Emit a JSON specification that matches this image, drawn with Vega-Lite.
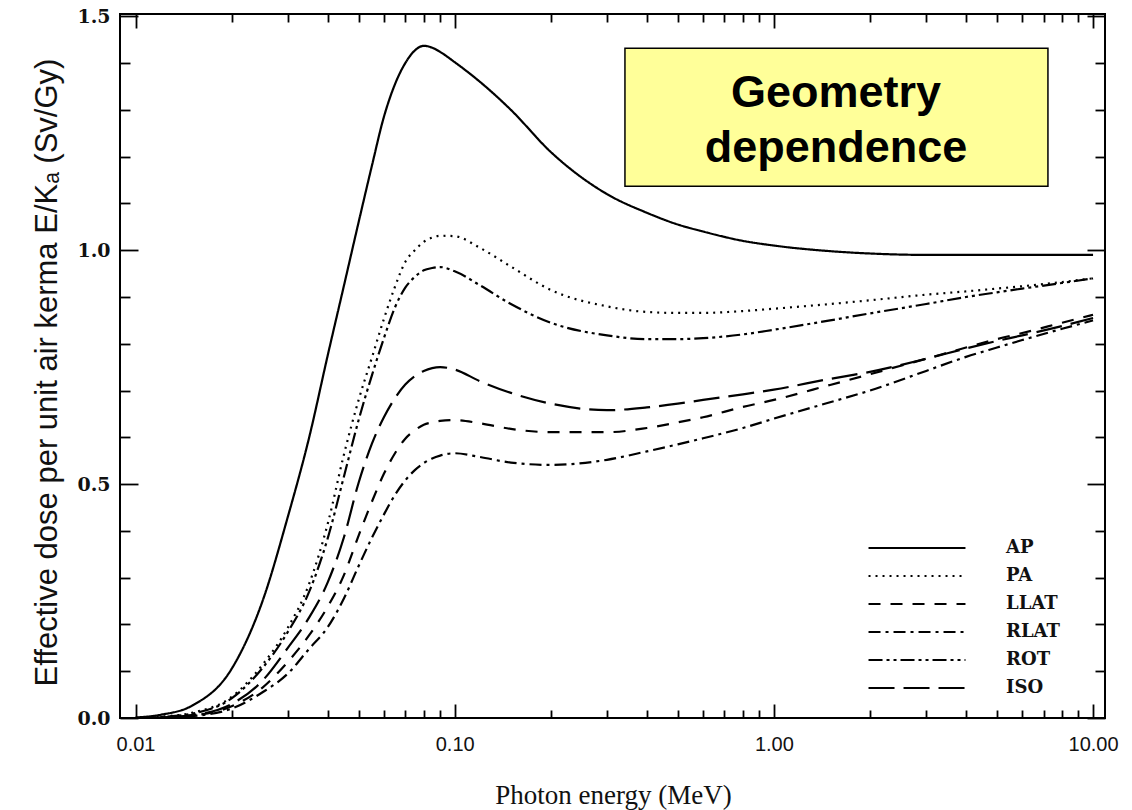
{
  "$schema": "https://vega.github.io/schema/vega-lite/v6.json",
  "width": 985,
  "height": 704,
  "autosize": "none",
  "padding": {"left": 120, "top": 14, "right": 27, "bottom": 92},
  "background": "white",
  "config": {
    "view": {"stroke": "black", "strokeWidth": 2},
    "axis": {"domain": false, "grid": false, "tickColor": "black", "tickWidth": 1.8, "labelColor": "#111", "titleColor": "#111"}
  },
  "datasets": {
    "curves": [
      {"E": 0.01, "AP": 0.001, "PA": 0, "LLAT": 0, "RLAT": 0, "ROT": 0, "ISO": 0},
      {"E": 0.012, "AP": 0.007, "PA": 0.003, "LLAT": 0.001, "RLAT": 0.001, "ROT": 0.002, "ISO": 0.001},
      {"E": 0.015, "AP": 0.026, "PA": 0.011, "LLAT": 0.005, "RLAT": 0.004, "ROT": 0.009, "ISO": 0.006},
      {"E": 0.02, "AP": 0.105, "PA": 0.045, "LLAT": 0.025, "RLAT": 0.02, "ROT": 0.042, "ISO": 0.03},
      {"E": 0.025, "AP": 0.25, "PA": 0.114, "LLAT": 0.065, "RLAT": 0.055, "ROT": 0.107, "ISO": 0.08},
      {"E": 0.03, "AP": 0.43, "PA": 0.193, "LLAT": 0.12, "RLAT": 0.095, "ROT": 0.184, "ISO": 0.15},
      {"E": 0.035, "AP": 0.6, "PA": 0.287, "LLAT": 0.177, "RLAT": 0.148, "ROT": 0.27, "ISO": 0.215},
      {"E": 0.04, "AP": 0.775, "PA": 0.415, "LLAT": 0.238, "RLAT": 0.194, "ROT": 0.384, "ISO": 0.29},
      {"E": 0.045, "AP": 0.925, "PA": 0.564, "LLAT": 0.306, "RLAT": 0.256, "ROT": 0.517, "ISO": 0.387},
      {"E": 0.05, "AP": 1.06, "PA": 0.68, "LLAT": 0.39, "RLAT": 0.325, "ROT": 0.637, "ISO": 0.503},
      {"E": 0.055, "AP": 1.18, "PA": 0.77, "LLAT": 0.462, "RLAT": 0.385, "ROT": 0.732, "ISO": 0.586},
      {"E": 0.06, "AP": 1.285, "PA": 0.853, "LLAT": 0.522, "RLAT": 0.435, "ROT": 0.812, "ISO": 0.643},
      {"E": 0.065, "AP": 1.355, "PA": 0.922, "LLAT": 0.566, "RLAT": 0.477, "ROT": 0.878, "ISO": 0.684},
      {"E": 0.07, "AP": 1.4, "PA": 0.975, "LLAT": 0.597, "RLAT": 0.508, "ROT": 0.92, "ISO": 0.713},
      {"E": 0.075, "AP": 1.427, "PA": 1.0, "LLAT": 0.615, "RLAT": 0.53, "ROT": 0.943, "ISO": 0.731},
      {"E": 0.08, "AP": 1.437, "PA": 1.018, "LLAT": 0.627, "RLAT": 0.545, "ROT": 0.957, "ISO": 0.742},
      {"E": 0.085, "AP": 1.433, "PA": 1.027, "LLAT": 0.632, "RLAT": 0.555, "ROT": 0.962, "ISO": 0.748},
      {"E": 0.09, "AP": 1.424, "PA": 1.031, "LLAT": 0.635, "RLAT": 0.561, "ROT": 0.964, "ISO": 0.75},
      {"E": 0.1, "AP": 1.402, "PA": 1.03, "LLAT": 0.637, "RLAT": 0.566, "ROT": 0.955, "ISO": 0.745},
      {"E": 0.12, "AP": 1.36, "PA": 1.005, "LLAT": 0.63, "RLAT": 0.558, "ROT": 0.925, "ISO": 0.72},
      {"E": 0.15, "AP": 1.3, "PA": 0.965, "LLAT": 0.618, "RLAT": 0.546, "ROT": 0.885, "ISO": 0.695},
      {"E": 0.2, "AP": 1.21, "PA": 0.915, "LLAT": 0.611, "RLAT": 0.541, "ROT": 0.845, "ISO": 0.672},
      {"E": 0.3, "AP": 1.12, "PA": 0.88, "LLAT": 0.611, "RLAT": 0.552, "ROT": 0.818, "ISO": 0.658},
      {"E": 0.4, "AP": 1.08, "PA": 0.868, "LLAT": 0.62, "RLAT": 0.57, "ROT": 0.81, "ISO": 0.664},
      {"E": 0.5, "AP": 1.055, "PA": 0.866, "LLAT": 0.632, "RLAT": 0.585, "ROT": 0.81, "ISO": 0.672},
      {"E": 0.6, "AP": 1.04, "PA": 0.866, "LLAT": 0.643, "RLAT": 0.598, "ROT": 0.812, "ISO": 0.68},
      {"E": 0.8, "AP": 1.02, "PA": 0.87, "LLAT": 0.665, "RLAT": 0.62, "ROT": 0.82, "ISO": 0.692},
      {"E": 1, "AP": 1.01, "PA": 0.875, "LLAT": 0.68, "RLAT": 0.64, "ROT": 0.83, "ISO": 0.702},
      {"E": 1.5, "AP": 0.998, "PA": 0.885, "LLAT": 0.712, "RLAT": 0.675, "ROT": 0.85, "ISO": 0.725},
      {"E": 2, "AP": 0.993, "PA": 0.893, "LLAT": 0.735, "RLAT": 0.7, "ROT": 0.865, "ISO": 0.74},
      {"E": 3, "AP": 0.99, "PA": 0.905, "LLAT": 0.768, "RLAT": 0.742, "ROT": 0.885, "ISO": 0.768},
      {"E": 4, "AP": 0.99, "PA": 0.912, "LLAT": 0.792, "RLAT": 0.772, "ROT": 0.9, "ISO": 0.79},
      {"E": 5, "AP": 0.99, "PA": 0.918, "LLAT": 0.81, "RLAT": 0.792, "ROT": 0.91, "ISO": 0.806},
      {"E": 6, "AP": 0.99, "PA": 0.923, "LLAT": 0.823, "RLAT": 0.808, "ROT": 0.918, "ISO": 0.818},
      {"E": 8, "AP": 0.99, "PA": 0.932, "LLAT": 0.845, "RLAT": 0.832, "ROT": 0.93, "ISO": 0.838},
      {"E": 10, "AP": 0.99, "PA": 0.94, "LLAT": 0.862, "RLAT": 0.85, "ROT": 0.94, "ISO": 0.855}
    ],
    "box": [{"x0": 0.3415, "x1": 7.222, "y0": 1.1368, "y1": 1.4316}],
    "words": [
      {"tx": 1.565, "ty": 1.3355, "label": "Geometry"},
      {"tx": 1.565, "ty": 1.218, "label": "dependence"}
    ]
  },
  "layer": [
    {
      "data": {"name": "curves"},
      "transform": [{"fold": ["AP", "PA", "LLAT", "RLAT", "ROT", "ISO"], "as": ["series", "value"]}],
      "mark": {"type": "line", "interpolate": "monotone", "color": "black", "strokeWidth": 2.2},
      "encoding": {
        "x": {
          "field": "E", "type": "quantitative",
          "scale": {"type": "log", "domain": [0.00894, 10.9], "nice": false},
          "axis": {
            "orient": "bottom",
            "values": [0.01, 0.02, 0.03, 0.04, 0.05, 0.06, 0.07, 0.08, 0.09, 0.1, 0.2, 0.3, 0.4, 0.5, 0.6, 0.7, 0.8, 0.9, 1, 2, 3, 4, 5, 6, 7, 8, 9, 10],
            "labelExpr": "abs(log(datum.value)/LN10 - round(log(datum.value)/LN10)) < 1e-6 ? format(datum.value, '.2f') : ''",
            "tickSize": {"condition": {"test": "abs(log(datum.value)/LN10 - round(log(datum.value)/LN10)) < 1e-6", "value": -14}, "value": -8},
            "labelPadding": 30,
            "labelFlush": false,
            "labelFont": "Liberation Sans",
            "labelFontSize": 20,
            "title": "Photon energy (MeV)",
            "titleFont": "Liberation Serif",
            "titleFontSize": 27,
            "titleFontWeight": "normal",
            "titleX": 493,
            "titleY": 77,
            "titleBaseline": "middle"
          }
        },
        "y": {
          "field": "value", "type": "quantitative",
          "scale": {"domain": [0, 1.505], "nice": false, "zero": false},
          "axis": {
            "orient": "left",
            "values": [0, 0.1, 0.2, 0.3, 0.4, 0.5, 0.6, 0.7, 0.8, 0.9, 1, 1.1, 1.2, 1.3, 1.4, 1.5],
            "labelExpr": "abs(datum.value*2 - round(datum.value*2)) < 1e-6 ? format(datum.value, '.1f') : ''",
            "tickSize": {"condition": {"test": "abs(datum.value*2 - round(datum.value*2)) < 1e-6", "value": -18}, "value": -10},
            "labelPadding": 28,
            "labelFont": "DejaVu Serif",
            "labelFontWeight": "bold",
            "labelFontSize": 19,
            "title": "Effective dose per unit air kerma E/Kₐ (Sv/Gy)",
            "titleFont": "Liberation Sans",
            "titleFontSize": 31,
            "titleFontWeight": "normal",
            "titleX": -73,
            "titleY": 358,
            "titleAngle": -90,
            "titleAlign": "center",
            "titleBaseline": "middle"
          }
        },
        "strokeDash": {
          "field": "series", "type": "nominal",
          "scale": {"domain": ["AP", "PA", "LLAT", "RLAT", "ROT", "ISO"], "range": [[1, 0], [2, 5], [12, 10], [12, 5, 3, 5], [14, 4, 3, 4, 3, 4], [26, 9]]},
          "legend": {
            "orient": "none",
            "legendX": 788,
            "legendY": 525,
            "title": null,
            "symbolType": "M-10,0H10",
            "symbolSize": 94,
            "symbolStrokeWidth": 2.2,
            "symbolStrokeColor": "black",
            "labelFont": "DejaVu Serif",
            "labelFontWeight": "bold",
            "labelFontSize": 18,
            "labelColor": "#111",
            "labelOffset": 80,
            "rowPadding": 10
          }
        }
      }
    },
    {
      "data": {"name": "box"},
      "mark": {"type": "rect", "fill": "#FFFF99", "stroke": "black", "strokeWidth": 1.5},
      "encoding": {
        "x": {
          "field": "x0", "type": "quantitative",
          "scale": {"type": "log", "domain": [0.00894, 10.9], "nice": false},
          "axis": {
            "orient": "top",
            "values": [0.01, 0.02, 0.03, 0.04, 0.05, 0.06, 0.07, 0.08, 0.09, 0.1, 0.2, 0.3, 0.4, 0.5, 0.6, 0.7, 0.8, 0.9, 1, 2, 3, 4, 5, 6, 7, 8, 9, 10],
            "labels": false,
            "tickSize": {"condition": {"test": "abs(log(datum.value)/LN10 - round(log(datum.value)/LN10)) < 1e-6", "value": -14}, "value": -8},
            "title": null
          }
        },
        "x2": {"field": "x1"},
        "y": {
          "field": "y0", "type": "quantitative",
          "scale": {"domain": [0, 1.505], "nice": false, "zero": false},
          "axis": {
            "orient": "right",
            "values": [0, 0.1, 0.2, 0.3, 0.4, 0.5, 0.6, 0.7, 0.8, 0.9, 1, 1.1, 1.2, 1.3, 1.4, 1.5],
            "labels": false,
            "tickSize": {"condition": {"test": "abs(datum.value*2 - round(datum.value*2)) < 1e-6", "value": -18}, "value": -10},
            "title": null
          }
        },
        "y2": {"field": "y1"}
      }
    },
    {
      "data": {"name": "words"},
      "mark": {"type": "text", "font": "Liberation Sans", "fontWeight": "bold", "fontSize": 45, "color": "black", "align": "center", "baseline": "middle"},
      "encoding": {
        "x": {"field": "tx", "type": "quantitative", "axis": null},
        "y": {"field": "ty", "type": "quantitative", "axis": null},
        "text": {"field": "label"}
      }
    }
  ],
  "resolve": {"axis": {"x": "independent", "y": "independent"}}
}
